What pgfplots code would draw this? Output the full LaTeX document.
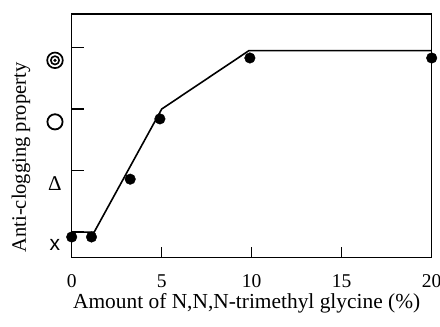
\documentclass[border=0pt]{standalone}
\usepackage{fontspec}
\setmainfont{Liberation Serif}
\newfontfamily\sansx{Liberation Sans}
\usepackage{pgfplots}
\pgfplotsset{compat=1.18}
\begin{document}
\begin{tikzpicture}
\useasboundingbox (0pt,0pt) rectangle (440pt,327pt);
\begin{axis}[
  at={(71.7pt,69.7pt)}, anchor=south west,
  scale only axis, width=360pt, height=243.3pt,
  xmin=0, xmax=20, ymin=-0.41, ymax=3.545,
  clip=false,
  axis line style={line width=1.6pt, black},
  tick align=inside,
  xtick pos=left, ytick pos=left,
  major tick length=12pt,
  tick style={line width=1.5pt, black},
  xtick style={/pgfplots/major tick length=10pt},
  xtick={0,5,10,15,20},
  /pgf/number format/assume math mode=true,
  ticklabel style={font=\fontsize{19.5}{21}\selectfont},
  xticklabel style={anchor=center, yshift=-23.7pt},
  ytick={0,1,2,3},
  yticklabels={
    {\sansx\fontsize{21}{21}\selectfont x\hspace{10pt}},
    {\fontsize{21}{21}\selectfont Δ\hspace{10pt}},
    {\tikz\draw[line width=1.8pt, black] (0,0) circle (7.6pt);},
    {\tikz{\draw[line width=1.7pt, black] (0,0) circle (7.8pt); \draw[line width=1.6pt, black] (0,0) circle (4.2pt); \fill[black] (0,0) circle (1.8pt);}}
  },
  yticklabel style={anchor=center, xshift=-16.7pt, yshift=-12.8pt},
  xlabel={Amount of N,N,N-trimethyl glycine (\%)},
  xlabel style={at={(axis description cs:0.486,-0.188)}, anchor=center, font=\fontsize{21.4}{25}\selectfont},
  ylabel={Anti-clogging property},
  ylabel style={at={(axis description cs:-0.141,0.41)}, anchor=center, font=\fontsize{20.5}{24}\selectfont},
]
\addplot[black, line width=1.6pt, mark=none] coordinates {(0,0) (1.25,0) (5,2) (9.85,2.95) (20,2.95)};
\addplot[black, only marks, mark=*, mark size=5.3pt] coordinates {(0,-0.08) (1.1,-0.08) (3.25,0.86) (4.9,1.84) (9.9,2.83) (20,2.83)};
\end{axis}
\end{tikzpicture}
\end{document}
